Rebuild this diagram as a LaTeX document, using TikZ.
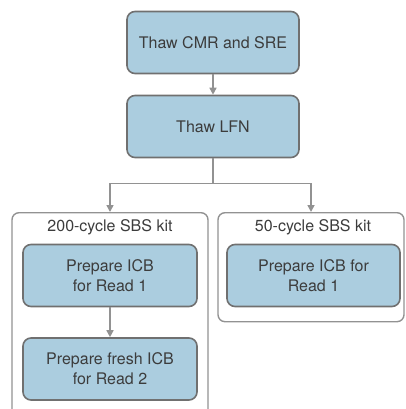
\documentclass[tikz,border=0pt]{standalone}
\usepackage{fontspec}
\setmainfont{TeX Gyre Heros}
\usetikzlibrary{arrows.meta}
\definecolor{stepfill}{HTML}{ABCDDF}
\definecolor{stepline}{HTML}{707070}
\definecolor{linkgray}{HTML}{929292}
\definecolor{textgray}{HTML}{3C3C3C}
\begin{document}
\begin{tikzpicture}[x=1pt, y=-1pt,
        stepbox/.style={draw=stepline, fill=stepfill, line width=1.6pt, rounded corners=8pt,
            minimum width=172pt, minimum height=62pt, align=center, text=textgray,
            font=\fontsize{16}{20}\selectfont, inner sep=0pt},
        kitbox/.style={draw=linkgray, line width=1.4pt, rounded corners=7pt, inner sep=0pt},
        link/.style={draw=linkgray, line width=1.6pt, -{Triangle[length=7pt, width=7pt]}}]
    \useasboundingbox (0,0) rectangle (405,409);
    \clip (0,0) rectangle (405,409);

    \node[stepbox] (cmr) at (213,42.5) {Thaw CMR and SRE};
    \node[stepbox] (lfn) at (213,126.5) {Thaw LFN};

    % kits
    \node[kitbox, minimum width=196pt, minimum height=220pt, anchor=north] (kitA) at (110,212) {};
    \node[kitbox, minimum width=186pt, minimum height=109pt, anchor=north] (kitB) at (311,212) {};
    \node[text=textgray, font=\fontsize{16}{20}\selectfont] (kitAlabel) at (110,227) {200-cycle SBS kit};
    \node[text=textgray, font=\fontsize{16}{20}\selectfont] (kitBlabel) at (313,227) {50-cycle SBS kit};

    \node[stepbox, minimum width=174pt] (readA) at (110,275.5) {Prepare ICB\\for Read 1};
    \node[stepbox, minimum width=174pt] (readB) at (110,369) {Prepare fresh ICB\\for Read 2};
    \node[stepbox, minimum width=173pt] (readC) at (313.5,275.5) {Prepare ICB for\\Read 1};

    \draw[link] (cmr) -- (lfn);
    \draw[link] (lfn.south) -- ++(0,25) -| (kitA.north);
    \draw[link] (lfn.south) -- ++(0,25) -| (kitB.north);
    \draw[link] (readA) -- (readB);
\end{tikzpicture}
\end{document}
